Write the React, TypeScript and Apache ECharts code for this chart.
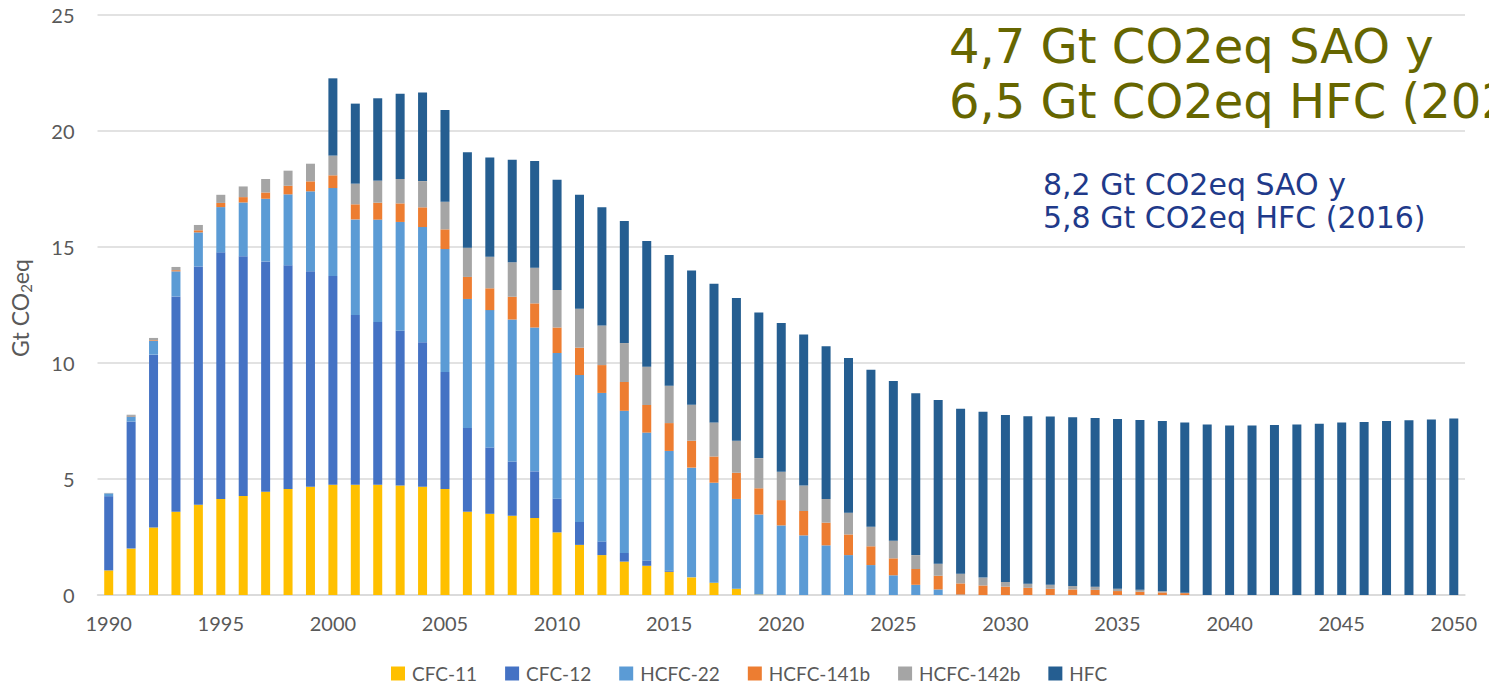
import React, { useEffect, useRef } from "react";
import * as echarts from "echarts";

const years: string[] = [];
for (let y = 1990; y <= 2050; y++) years.push(String(y));

const seriesNames = ["CFC-11", "CFC-12", "HCFC-22", "HCFC-141b", "HCFC-142b", "HFC"];
const seriesColors = ["#FFC000", "#4472C4", "#5B9BD5", "#ED7D31", "#A5A5A5", "#255E91"];

// 1990 .. 2050
const cfc11 = [
  1.06, 2.0, 2.91, 3.59, 3.89, 4.14, 4.27, 4.45, 4.57, 4.67,
  4.75, 4.75, 4.75, 4.72, 4.67, 4.57, 3.59, 3.5, 3.42, 3.32,
  2.7, 2.16, 1.72, 1.44, 1.26, 1.0, 0.76, 0.53, 0.27, 0.02,
  -0.05, -0.05, -0.05, -0.05, -0.05, -0.05, -0.05, -0.05, -0.05, -0.05,
  -0.05, -0.05, -0.05, -0.05, -0.05, 0, 0, 0, 0, 0,
  0, 0, 0, 0, 0, 0, 0, 0, 0, 0,
  0,
];
const cfc12 = [
  3.2, 5.48, 7.45, 9.28, 10.27, 10.63, 10.33, 9.93, 9.64, 9.28,
  9.0, 7.32, 7.02, 6.67, 6.22, 5.04, 3.61, 2.86, 2.33, 2.01,
  1.45, 0.99, 0.59, 0.37, 0.23, 0.05, -0.05, -0.05, -0.05, -0.05,
  0, 0, 0, 0, 0, 0, 0, 0, 0, 0,
  0, 0, 0, 0, 0, 0, 0, 0, 0, 0,
  0, 0, 0, 0, 0, 0, 0, 0, 0, 0,
  0,
];
const hcfc22 = [
  0.12, 0.22, 0.59, 1.08, 1.47, 1.95, 2.32, 2.7, 3.06, 3.45,
  3.79, 4.12, 4.41, 4.69, 4.97, 5.3, 5.56, 5.92, 6.13, 6.2,
  6.28, 6.33, 6.4, 6.13, 5.51, 5.16, 4.73, 4.31, 3.87, 3.45,
  3.0, 2.57, 2.14, 1.72, 1.29, 0.85, 0.44, 0.24, 0.02, 0,
  0, 0, 0, 0, 0, 0, 0, 0, 0, 0,
  0, 0, 0, 0, 0, 0, 0, 0, 0, 0,
  0,
];
const hcfc141b = [
  0, 0.02, 0.03, 0.05, 0.09, 0.18, 0.23, 0.27, 0.37, 0.43,
  0.55, 0.65, 0.73, 0.8, 0.85, 0.85, 0.95, 0.94, 0.98, 1.04,
  1.1, 1.18, 1.2, 1.24, 1.19, 1.2, 1.16, 1.13, 1.13, 1.13,
  1.09, 1.05, 0.98, 0.89, 0.81, 0.73, 0.68, 0.59, 0.48, 0.41,
  0.36, 0.31, 0.27, 0.24, 0.22, 0.17, 0.14, 0.11, 0.08, 0,
  0, 0, 0, 0, 0, 0, 0, 0, 0, 0,
  0,
];
const hcfc142b = [
  0.02, 0.05, 0.1, 0.14, 0.23, 0.35, 0.46, 0.58, 0.65, 0.76,
  0.85, 0.89, 0.95, 1.05, 1.13, 1.19, 1.26, 1.36, 1.48, 1.54,
  1.62, 1.68, 1.71, 1.68, 1.65, 1.61, 1.55, 1.47, 1.38, 1.3,
  1.22, 1.1, 1.02, 0.94, 0.84, 0.76, 0.6, 0.52, 0.42, 0.34,
  0.2, 0.18, 0.17, 0.15, 0.14, 0.1, 0.09, 0.05, 0.02, 0,
  0, 0, 0, 0, 0, 0, 0, 0, 0, 0,
  0,
];
const hfc = [
  0, 0, 0, 0, 0, 0, 0, 0, 0, 0,
  3.33, 3.45, 3.55, 3.68, 3.82, 3.95, 4.11, 4.28, 4.42, 4.6,
  4.75, 4.91, 5.09, 5.26, 5.42, 5.64, 5.79, 5.98, 6.15, 6.28,
  6.41, 6.51, 6.58, 6.67, 6.77, 6.88, 6.98, 7.05, 7.11, 7.15,
  7.2, 7.22, 7.25, 7.27, 7.27, 7.32, 7.31, 7.34, 7.33, 7.35,
  7.31, 7.31, 7.33, 7.35, 7.38, 7.43, 7.46, 7.5, 7.53, 7.57,
  7.61,
];
const seriesData = [cfc11, cfc12, hcfc22, hcfc141b, hcfc142b, hfc];

const annotationBig = ["4,7 Gt CO2eq SAO y", "6,5 Gt CO2eq HFC (2025)"];
const annotationSmall = ["8,2 Gt CO2eq SAO y", "5,8 Gt CO2eq HFC (2016)"];

const FONT = "Lato, 'Open Sans', sans-serif";
const ANNOT_FONT = "'DejaVu Sans', sans-serif";

export default function App() {
  const ref = useRef<HTMLDivElement>(null);
  useEffect(() => {
    document.body.style.margin = "0";
    if (!ref.current) return;
    const chart = echarts.init(ref.current, undefined, { renderer: "svg" });
    chart.setOption({
      animation: false,
      grid: { left: 92, right: 24, top: 15, bottom: 91, containLabel: false },
      legend: {
        top: 664,
        left: 391,
        padding: 0,
        itemWidth: 14,
        itemHeight: 14,
        itemGap: 28,
        icon: "rect",
        textStyle: { color: "#595959", fontSize: 19, fontFamily: FONT, padding: [0, 0, 0, 2] },
        data: seriesNames,
      },
      xAxis: {
        type: "category",
        data: years,
        axisTick: { show: false },
        axisLine: { lineStyle: { color: "#D9D9D9", width: 1.5 } },
        axisLabel: { interval: 4, color: "#595959", fontSize: 20, fontFamily: FONT, margin: 18 },
      },
      yAxis: {
        type: "value",
        min: 0,
        max: 25,
        interval: 5,
        name: "Gt CO{sub|2}eq",
        nameLocation: "middle",
        nameGap: 64,
        nameRotate: 90,
        nameTextStyle: {
          color: "#595959",
          fontSize: 23,
          fontFamily: FONT,
          padding: [0, 6, 0, 0],
          rich: {
            sub: { fontSize: 15, fontFamily: FONT, color: "#595959", verticalAlign: "bottom", padding: [13, 0, 0, 0] },
          },
        },
        axisLabel: { color: "#595959", fontSize: 20, fontFamily: FONT, margin: 23 },
        splitLine: { lineStyle: { color: "#D9D9D9", width: 1.5 } },
        axisLine: { show: false },
        axisTick: { show: false },
      },
      series: seriesNames.map((name, i) => ({
        name,
        type: "bar",
        stack: "total",
        barWidth: 9,
        itemStyle: { color: seriesColors[i] },
        data: seriesData[i],
      })),
      graphic: [
        {
          type: "text",
          left: 949,
          top: 18,
          style: {
            text: annotationBig.join("\n"),
            fill: "#666600",
            font: `48px ${ANNOT_FONT}`,
            lineHeight: 55,
          },
        },
        {
          type: "text",
          left: 1043,
          top: 168,
          style: {
            text: annotationSmall.join("\n"),
            fill: "#1F3A8A",
            font: `30px ${ANNOT_FONT}`,
            lineHeight: 33,
          },
        },
      ],
    });
    return () => chart.dispose();
  }, []);
  return <div ref={ref} style={{ position: "absolute", left: 0, top: 0, width: 1489, height: 686 }} />;
}
